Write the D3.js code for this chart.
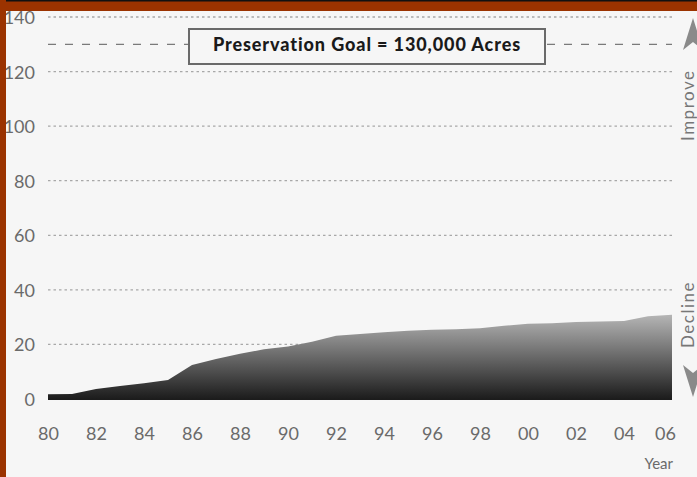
<!DOCTYPE html>
<html>
<head>
<meta charset="utf-8">
<script src="https://cdn.jsdelivr.net/npm/d3@7"></script>
<style>
  html, body { margin: 0; padding: 0; background: #f6f6f6; }
  svg { display: block; }
</style>
</head>
<body>
<svg id="chart" width="697" height="477"></svg>
<script>
// Preserved acreage (thousands of acres) by year
const years = [1980, 1981, 1982, 1983, 1984, 1985, 1986, 1987, 1988, 1989, 1990, 1991, 1992,
               1993, 1994, 1995, 1996, 1997, 1998, 1999, 2000, 2001, 2002, 2003, 2004, 2005, 2006];
const acres = [1.7, 1.8, 3.7, 4.8, 5.8, 7.0, 12.5, 14.7, 16.6, 18.2, 19.2, 21.0, 23.2,
               23.8, 24.5, 25.0, 25.4, 25.6, 25.9, 26.8, 27.6, 27.8, 28.2, 28.4, 28.6, 30.3, 30.9];
const xTickYears = [1980, 1982, 1984, 1986, 1988, 1990, 1992, 1994, 1996, 1998, 2000, 2002, 2004, 2006];
const yTicks = [0, 20, 40, 60, 80, 100, 120, 140];
const gridTicks = [20, 40, 60, 80, 100, 120, 140];
const goal = 130;
const goalLabel = "Preservation Goal = 130,000 Acres";

const svg = d3.select("#chart");
const W = 697, H = 477;
const font = "Lato, 'DejaVu Sans', sans-serif";
const labelColor = "#6a6a6a";

const x = d3.scaleLinear().domain([1980, 2006]).range([48, 672]);
const y = d3.scaleLinear().domain([0, 140]).range([399, 17]);

// background
svg.append("rect").attr("width", W).attr("height", H).attr("fill", "#f6f6f6");

// gradient for the area
const defs = svg.append("defs");
const grad = defs.append("linearGradient")
  .attr("id", "areaGrad")
  .attr("gradientUnits", "userSpaceOnUse")
  .attr("x1", 0).attr("x2", 0)
  .attr("y1", y(31)).attr("y2", y(0));
grad.append("stop").attr("offset", 0).attr("stop-color", "#b6b6b6");
grad.append("stop").attr("offset", 1).attr("stop-color", "#1c1c1c");

// dotted gridlines
svg.append("g").selectAll("line").data(gridTicks).join("line")
  .attr("x1", x(1980)).attr("x2", x(2006))
  .attr("y1", d => y(d)).attr("y2", d => y(d))
  .attr("stroke", "#a8a8a8").attr("stroke-width", 1.3)
  .attr("stroke-dasharray", "2.5,3");

// y axis labels
const yAxis = d3.axisLeft(y).tickValues(yTicks).tickSize(0).tickPadding(0).tickFormat(d3.format("d"));
const gy = svg.append("g").attr("transform", "translate(35,0)").call(yAxis);
gy.select(".domain").remove();
gy.selectAll("text")
  .attr("font-family", font).attr("font-weight", 400)
  .attr("font-size", 18).attr("fill", labelColor)
  .attr("dy", "0.36em");

// x axis labels
const xAxis = d3.axisBottom(x).tickValues(xTickYears).tickSize(0).tickPadding(0)
  .tickFormat(d => String(d % 100).padStart(2, "0"));
const gx = svg.append("g").attr("transform", "translate(0,429)").call(xAxis);
gx.select(".domain").remove();
gx.selectAll("text")
  .attr("font-family", font).attr("font-weight", 400)
  .attr("font-size", 18).attr("fill", labelColor)
  .attr("dy", "0.6em");
gx.selectAll(".tick").filter(d => d === 2006).select("text").attr("dx", -7);

svg.append("text")
  .attr("x", 673).attr("y", 469)
  .attr("text-anchor", "end")
  .attr("font-family", font).attr("font-weight", 400)
  .attr("font-size", 15).attr("fill", labelColor)
  .text("Year");

// area
const data = years.map((yr, i) => ({ yr, v: acres[i] }));
const area = d3.area().x(d => x(d.yr)).y0(y(0) + 1).y1(d => y(d.v));
svg.append("path").datum(data)
  .attr("d", area)
  .attr("fill", "url(#areaGrad)");

// goal line with label box
const boxX = 189, boxW = 356, boxY = 29, boxH = 35;
const gy0 = y(goal);
svg.append("line")
  .attr("x1", x(1980)).attr("x2", boxX).attr("y1", gy0).attr("y2", gy0)
  .attr("stroke", "#7a7a7a").attr("stroke-width", 1.2).attr("stroke-dasharray", "8,9");
svg.append("line")
  .attr("x1", boxX + boxW + 2).attr("x2", x(2006)).attr("y1", gy0).attr("y2", gy0)
  .attr("stroke", "#7a7a7a").attr("stroke-width", 1.2).attr("stroke-dasharray", "8,9");
svg.append("rect")
  .attr("x", boxX).attr("y", boxY).attr("width", boxW).attr("height", boxH)
  .attr("fill", "#f6f6f6").attr("stroke", "#6a6a6a").attr("stroke-width", 2);
svg.append("text")
  .attr("x", boxX + boxW / 2).attr("y", gy0 + 6.5)
  .attr("text-anchor", "middle")
  .attr("font-family", font).attr("font-weight", 900)
  .attr("font-size", 18).attr("letter-spacing", 0.9).attr("fill", "#1a1a1a")
  .text(goalLabel);

// Improve / Decline direction markers
const side = svg.append("g").attr("fill", "#8a8a8a");
side.append("path").attr("d", "M693,18 L703,50 L693,42 L683,50 Z");
side.append("path").attr("d", "M693,397 L703,365 L693,373 L683,365 Z");
side.append("text")
  .attr("transform", "translate(694,141) rotate(-90)")
  .attr("font-family", font).attr("font-weight", 400)
  .attr("font-size", 17).attr("letter-spacing", 1.5).attr("fill", "#777")
  .text("Improve");
side.append("text")
  .attr("transform", "translate(694,348) rotate(-90)")
  .attr("font-family", font).attr("font-weight", 400)
  .attr("font-size", 17).attr("letter-spacing", 1.5).attr("fill", "#777")
  .text("Decline");

// frame
svg.append("rect").attr("x", 0).attr("y", 0).attr("width", W).attr("height", 11).attr("fill", "#9b3300");
svg.append("rect").attr("x", 0).attr("y", 0).attr("width", W).attr("height", 1.5).attr("fill", "#111");
svg.append("rect").attr("x", 0).attr("y", 0).attr("width", 6).attr("height", H).attr("fill", "#9b3300");
</script>
</body>
</html>
